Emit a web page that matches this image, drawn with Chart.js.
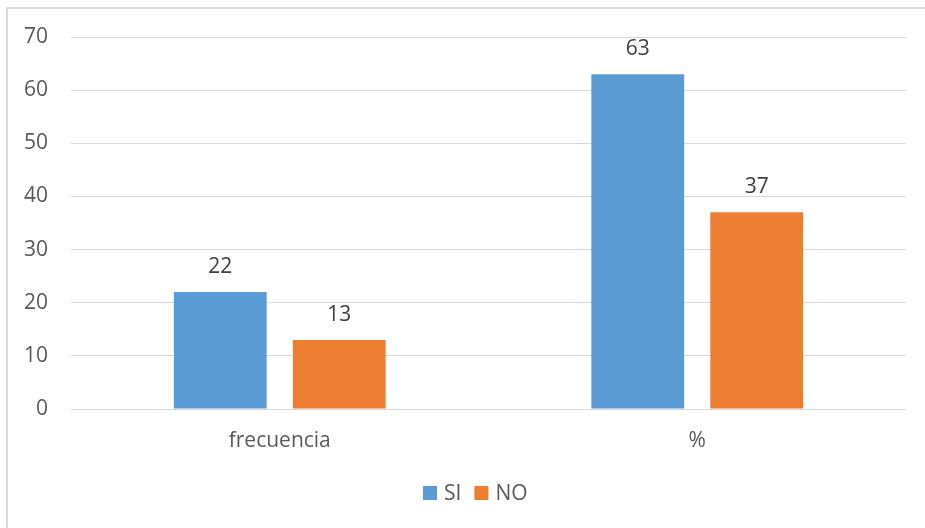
<!DOCTYPE html>
<html>
<head>
<meta charset="utf-8">
<script src="https://cdn.jsdelivr.net/npm/chart.js@4/dist/chart.umd.min.js"></script>
<style>
  html, body { margin: 0; padding: 0; background: #fff; }
  #wrap { width: 925px; height: 528px; position: relative; }
</style>
</head>
<body>
<div id="wrap"><canvas id="c" width="925" height="528"></canvas></div>
<script>
const categories = ["frecuencia", "%"];
const siValues = [22, 63];
const noValues = [13, 37];
const yTicks = [0, 10, 20, 30, 40, 50, 60, 70];

const FONT = "'Open Sans', sans-serif";
const SIZE = 21;
const TEXT = '#595959';

// outer frame of the chart (left and top edges visible)
const framePlugin = {
  id: 'frame',
  beforeDraw(chart) {
    const ctx = chart.ctx;
    ctx.save();
    ctx.strokeStyle = '#d9d9d9';
    ctx.lineWidth = 2;
    ctx.beginPath();
    ctx.moveTo(7, 540);
    ctx.lineTo(7, 8);
    ctx.lineTo(940, 8);
    ctx.stroke();
    ctx.restore();
  }
};

// compact legend row below the axis: square swatch, short gap, series name
const bottomLegend = {
  id: 'bottomLegend',
  afterDraw(chart) {
    const ctx = chart.ctx;
    const box = 14, gap = 7, itemGap = 13, cy = 493, cx = 475;
    ctx.save();
    ctx.font = SIZE + 'px ' + FONT;
    ctx.textBaseline = 'middle';
    ctx.textAlign = 'left';
    const items = chart.data.datasets.map(ds => ({
      label: ds.label, color: ds.backgroundColor, w: ctx.measureText(ds.label).width
    }));
    const total = items.reduce((s, it) => s + box + gap + it.w, 0) + itemGap * (items.length - 1);
    let x = Math.round(cx - total / 2);
    items.forEach(it => {
      ctx.fillStyle = it.color;
      ctx.fillRect(x, cy - box / 2, box, box);
      ctx.fillStyle = TEXT;
      ctx.fillText(it.label, x + box + gap, cy + 1);
      x += box + gap + it.w + itemGap;
    });
    ctx.restore();
  }
};

// value labels above each bar
const valueLabels = {
  id: 'valueLabels',
  afterDatasetsDraw(chart) {
    const ctx = chart.ctx;
    ctx.save();
    ctx.font = SIZE + 'px ' + FONT;
    ctx.fillStyle = '#404040';
    ctx.textAlign = 'center';
    ctx.textBaseline = 'middle';
    chart.data.datasets.forEach((ds, i) => {
      chart.getDatasetMeta(i).data.forEach((bar, j) => {
        ctx.fillText(String(ds.data[j]), bar.x, bar.y - 25);
      });
    });
    ctx.restore();
  }
};

new Chart(document.getElementById('c'), {
  type: 'bar',
  data: {
    labels: categories,
    datasets: [
      { label: 'SI', data: siValues, backgroundColor: '#5B9BD5' },
      { label: 'NO', data: noValues, backgroundColor: '#ED7D31' }
    ]
  },
  options: {
    responsive: false,
    animation: false,
    devicePixelRatio: 1,
    layout: { padding: { top: 37, right: 19, bottom: 53, left: 0 } },
    datasets: { bar: { categoryPercentage: 0.57, barPercentage: 0.78 } },
    plugins: {
      legend: { display: false },
      tooltip: { enabled: false }
    },
    scales: {
      x: {
        grid: { display: false, drawTicks: false },
        border: { display: false },
        ticks: { color: TEXT, padding: 19, font: { family: FONT, size: SIZE } },
        afterFit(s) { s.height = 66; }
      },
      y: {
        min: 0, max: 70,
        afterBuildTicks(s) { s.ticks = yTicks.map(v => ({ value: v })); },
        grid: { color: '#d9d9d9', lineWidth: 1, drawTicks: false },
        border: { display: false },
        ticks: { color: TEXT, padding: 23, font: { family: FONT, size: SIZE } },
        afterFit(s) { s.width = 71; }
      }
    }
  },
  plugins: [framePlugin, valueLabels, bottomLegend]
});
</script>
</body>
</html>
